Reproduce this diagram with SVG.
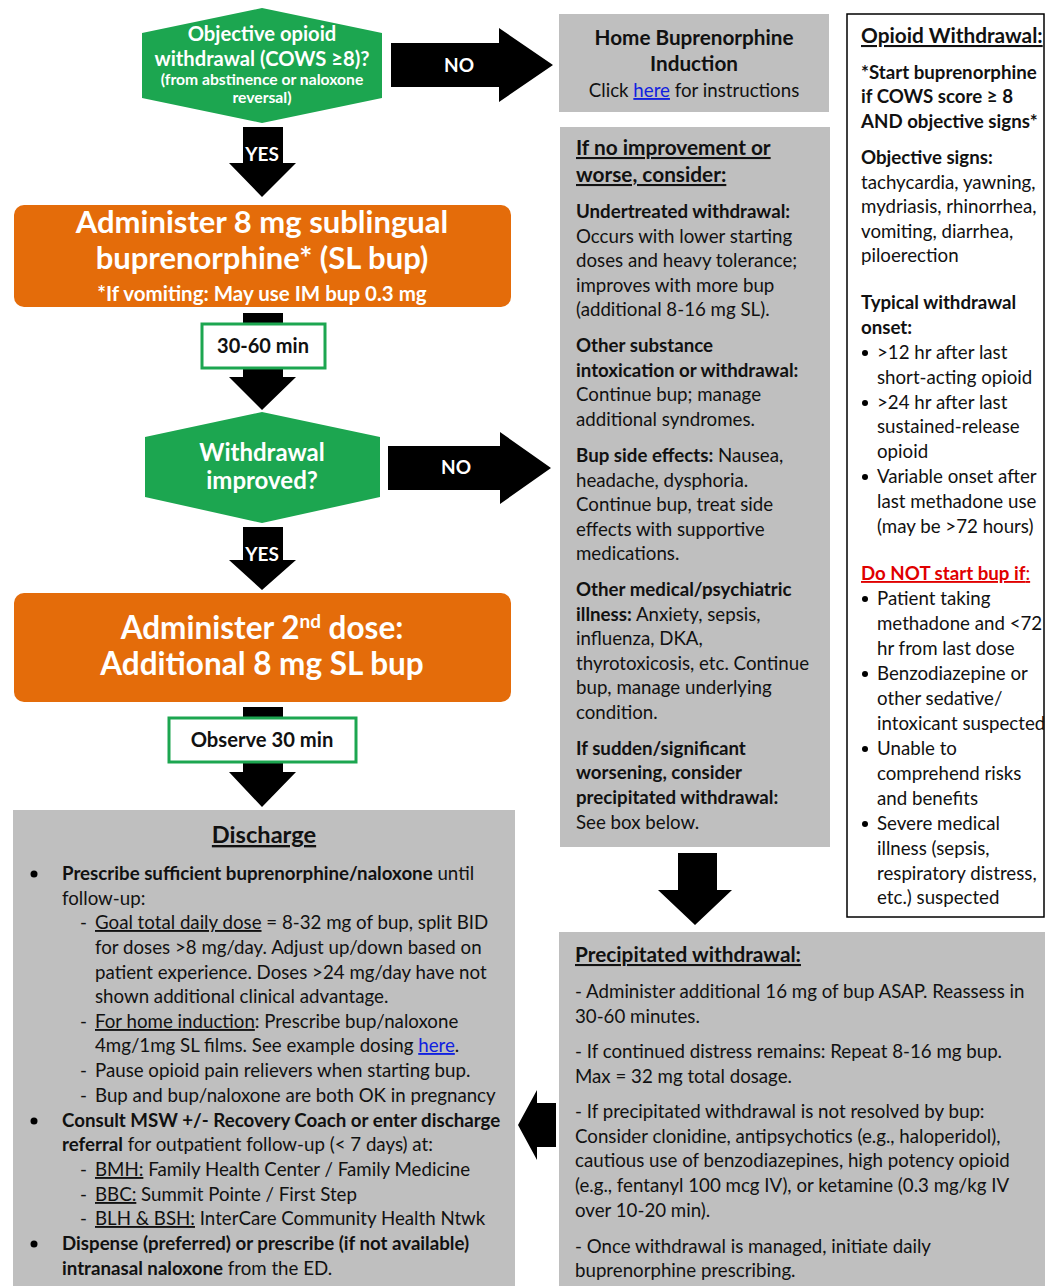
<svg xmlns="http://www.w3.org/2000/svg" width="1045" height="1286" viewBox="0 0 1045 1286">
<style>
text{font-family:Lato,"Liberation Sans",sans-serif;fill:#111;}
.b{font-weight:bold;}
.w{fill:#fff;font-weight:bold;}
.u{text-decoration:underline;}
.t{font-size:18.7px;}
.h{font-size:20.8px;}
.lnk{fill:#1020E0;text-decoration:underline;}
.gray{fill:#BFBFBF;}
.dec{fill:#1CA650;}
.org{fill:#E46C0A;}
.tbox{fill:#fff;stroke:#1CA650;stroke-width:3;}
.arr{fill:#000;}
.red{fill:#E00000;}
</style>
<rect width="1045" height="1286" fill="#fff"/>

<g id="connectors">
<polygon class="arr" points="391,43 499,43 499,28 553,65 499,102 499,87 391,87"/>
<polygon class="arr" points="243,127 283,127 283,163 296,163 262,197 229,163 243,163"/>
<polygon class="arr" points="243,313 283,313 283,377 296,377 262,410 229,377 243,377"/>
<polygon class="arr" points="388,446 500,446 500,432 551,468 500,504 500,490 388,490"/>
<polygon class="arr" points="243,527 283,527 283,560 296,560 262,590 229,560 243,560"/>
<polygon class="arr" points="243,707 283,707 283,772 296,772 262,807 229,772 243,772"/>
<polygon class="arr" points="678,853 717,853 717,890 732,890 695,925 658,890 678,890"/>
<polygon class="arr" points="556,1103 537,1103 537,1090 518,1125 537,1160 537,1147 556,1147"/>
<text class="w" x="459" y="72" font-size="19" text-anchor="middle">NO</text>
<text class="w" x="456" y="474" font-size="19" text-anchor="middle">NO</text>
<text class="w" x="262" y="161" font-size="19" text-anchor="middle">YES</text>
<text class="w" x="262" y="561" font-size="19" text-anchor="middle">YES</text>
</g>

<g id="decision1">
<polygon class="dec" points="262,8 382,33 382,98 262,123 142,98 142,33"/>
<text class="w" x="262" y="41" font-size="20.2" text-anchor="middle">Objective opioid</text>
<text class="w" x="262" y="66" font-size="20.2" text-anchor="middle">withdrawal (COWS ≥8)?</text>
<text class="w" x="262" y="85" font-size="15.7" text-anchor="middle">(from abstinence or naloxone</text>
<text class="w" x="262" y="103" font-size="15.7" text-anchor="middle">reversal)</text>
</g>

<g id="home-induction">
<rect class="gray" x="559" y="14" width="270" height="98"/>
<text class="b" x="694" y="45" font-size="20.7" text-anchor="middle">Home Buprenorphine</text>
<text class="b" x="694" y="71" font-size="20.7" text-anchor="middle">Induction</text>
<text x="694" y="97" font-size="18.7" text-anchor="middle">Click <tspan class="lnk">here</tspan> for instructions</text>
</g>

<g id="dose1">
<rect class="org" x="14" y="205" width="497" height="102" rx="10"/>
<text class="w" x="262" y="233" font-size="31" text-anchor="middle">Administer 8 mg sublingual</text>
<text class="w" x="262" y="269" font-size="31" text-anchor="middle">buprenorphine* (SL bup)</text>
<text class="w" x="262" y="301" font-size="20.5" text-anchor="middle">*If vomiting: May use IM bup 0.3 mg</text>
</g>

<g id="wait1">
<rect class="tbox" x="202" y="324" width="123" height="44"/>
<text class="b" x="263" y="353" font-size="20" text-anchor="middle">30-60 min</text>
</g>

<g id="decision2">
<polygon class="dec" points="262,412 380,437 380,497 262,523 145,497 145,437"/>
<text class="w" x="262" y="461" font-size="24" text-anchor="middle">Withdrawal</text>
<text class="w" x="262" y="489" font-size="24" text-anchor="middle">improved?</text>
</g>

<g id="dose2">
<rect class="org" x="14" y="593" width="497" height="109" rx="10"/>
<text class="w" x="262" y="639" font-size="31.5" text-anchor="middle">Administer 2<tspan font-size="19" dy="-11">nd</tspan><tspan dy="11"> dose:</tspan></text>
<text class="w" x="262" y="675" font-size="31.5" text-anchor="middle">Additional 8 mg SL bup</text>
</g>

<g id="wait2">
<rect class="tbox" x="169" y="718" width="187" height="44"/>
<text class="b" x="262" y="747" font-size="20.2" text-anchor="middle">Observe 30 min</text>
</g>

<g id="consider">
<rect class="gray" x="560" y="127" width="270" height="720"/>
<g class="t">
<text class="b u h" x="576" y="155">If no improvement or</text>
<text class="b u h" x="576" y="182">worse, consider:</text>
<text class="b" x="576" y="218">Undertreated withdrawal:</text>
<text x="576" y="243">Occurs with lower starting</text>
<text x="576" y="267">doses and heavy tolerance;</text>
<text x="576" y="292">improves with more bup</text>
<text x="576" y="316">(additional 8-16 mg SL).</text>
<text class="b" x="576" y="352">Other substance</text>
<text class="b" x="576" y="377">intoxication or withdrawal:</text>
<text x="576" y="401">Continue bup; manage</text>
<text x="576" y="426">additional syndromes.</text>
<text x="576" y="462"><tspan class="b">Bup side effects:</tspan> Nausea,</text>
<text x="576" y="487">headache, dysphoria.</text>
<text x="576" y="511">Continue bup, treat side</text>
<text x="576" y="536">effects with supportive</text>
<text x="576" y="560">medications.</text>
<text class="b" x="576" y="596">Other medical/psychiatric</text>
<text x="576" y="621"><tspan class="b">illness:</tspan> Anxiety, sepsis,</text>
<text x="576" y="645">influenza, DKA,</text>
<text x="576" y="670">thyrotoxicosis, etc. Continue</text>
<text x="576" y="694">bup, manage underlying</text>
<text x="576" y="719">condition.</text>
<text class="b" x="576" y="755">If sudden/significant</text>
<text class="b" x="576" y="779">worsening, consider</text>
<text class="b" x="576" y="804">precipitated withdrawal:</text>
<text x="576" y="829">See box below.</text>
</g>
</g>

<g id="withdrawal-info">
<rect x="847" y="14" width="197" height="903" fill="#fff" stroke="#000" stroke-width="1.5"/>
<g class="t">
<text class="b u h" x="861" y="43">Opioid Withdrawal:</text>
<text class="b" x="861" y="79">*Start buprenorphine</text>
<text class="b" x="861" y="103">if COWS score ≥ 8</text>
<text class="b" x="861" y="128">AND objective signs*</text>
<text class="b" x="861" y="164">Objective signs:</text>
<text x="861" y="189">tachycardia, yawning,</text>
<text x="861" y="213">mydriasis, rhinorrhea,</text>
<text x="861" y="238">vomiting, diarrhea,</text>
<text x="861" y="262">piloerection</text>
<text class="b" x="861" y="309">Typical withdrawal</text>
<text class="b" x="861" y="334">onset:</text>
<text x="877" y="359">&gt;12 hr after last</text>
<text x="877" y="384">short-acting opioid</text>
<text x="877" y="409">&gt;24 hr after last</text>
<text x="877" y="433">sustained-release</text>
<text x="877" y="458">opioid</text>
<text x="877" y="483">Variable onset after</text>
<text x="877" y="508">last methadone use</text>
<text x="877" y="533">(may be &gt;72 hours)</text>
<text class="u red" x="861" y="580"><tspan class="b">Do NOT start bup if</tspan>:</text>
<text x="877" y="605">Patient taking</text>
<text x="877" y="630">methadone and &lt;72</text>
<text x="877" y="655">hr from last dose</text>
<text x="877" y="680">Benzodiazepine or</text>
<text x="877" y="705">other sedative/</text>
<text x="877" y="730">intoxicant suspected</text>
<text x="877" y="755">Unable to</text>
<text x="877" y="780">comprehend risks</text>
<text x="877" y="805">and benefits</text>
<text x="877" y="830">Severe medical</text>
<text x="877" y="855">illness (sepsis,</text>
<text x="877" y="880">respiratory distress,</text>
<text x="877" y="904">etc.) suspected</text>
</g>
<g fill="#000">
<circle cx="865" cy="353" r="3"/>
<circle cx="865" cy="403" r="3"/>
<circle cx="865" cy="477" r="3"/>
<circle cx="865" cy="599" r="3"/>
<circle cx="865" cy="674" r="3"/>
<circle cx="865" cy="749" r="3"/>
<circle cx="865" cy="824" r="3"/>
</g>
</g>

<g id="discharge">
<rect class="gray" x="13" y="810" width="502" height="476"/>
<text class="b u" x="264" y="843" font-size="23.6" text-anchor="middle">Discharge</text>
<g class="t">
<text x="62" y="880"><tspan class="b">Prescribe sufficient buprenorphine/naloxone</tspan> until</text>
<text x="62" y="905">follow-up:</text>
<text x="80" y="929">-</text><text x="95" y="929"><tspan class="u">Goal total daily dose</tspan> = 8-32 mg of bup, split BID</text>
<text x="95" y="954">for doses &gt;8 mg/day. Adjust up/down based on</text>
<text x="95" y="979">patient experience. Doses &gt;24 mg/day have not</text>
<text x="95" y="1003">shown additional clinical advantage.</text>
<text x="80" y="1028">-</text><text x="95" y="1028"><tspan class="u">For home induction</tspan>: Prescribe bup/naloxone</text>
<text x="95" y="1052">4mg/1mg SL films. See example dosing <tspan class="lnk">here</tspan>.</text>
<text x="80" y="1077">-</text><text x="95" y="1077">Pause opioid pain relievers when starting bup.</text>
<text x="80" y="1102">-</text><text x="95" y="1102">Bup and bup/naloxone are both OK in pregnancy</text>
<text x="62" y="1127" class="b">Consult MSW +/- Recovery Coach or enter discharge</text>
<text x="62" y="1151"><tspan class="b">referral</tspan> for outpatient follow-up (&lt; 7 days) at:</text>
<text x="80" y="1176">-</text><text x="95" y="1176"><tspan class="u">BMH:</tspan> Family Health Center / Family Medicine</text>
<text x="80" y="1201">-</text><text x="95" y="1201"><tspan class="u">BBC:</tspan> Summit Pointe / First Step</text>
<text x="80" y="1225">-</text><text x="95" y="1225"><tspan class="u">BLH &amp; BSH:</tspan> InterCare Community Health Ntwk</text>
<text x="62" y="1250" class="b">Dispense (preferred) or prescribe (if not available)</text>
<text x="62" y="1275"><tspan class="b">intranasal naloxone</tspan> from the ED.</text>
</g>
<g fill="#000">
<circle cx="34" cy="874" r="3.5"/>
<circle cx="34" cy="1121" r="3.5"/>
<circle cx="34" cy="1244" r="3.5"/>
</g>
</g>

<g id="precipitated">
<rect class="gray" x="559" y="932" width="486" height="354"/>
<g class="t">
<text class="b u h" x="575" y="962">Precipitated withdrawal:</text>
<text x="575" y="998">- Administer additional 16 mg of bup ASAP. Reassess in</text>
<text x="575" y="1023">30-60 minutes.</text>
<text x="575" y="1058">- If continued distress remains: Repeat 8-16 mg bup.</text>
<text x="575" y="1083">Max = 32 mg total dosage.</text>
<text x="575" y="1118">- If precipitated withdrawal is not resolved by bup:</text>
<text x="575" y="1143">Consider clonidine, antipsychotics (e.g., haloperidol),</text>
<text x="575" y="1167">cautious use of benzodiazepines, high potency opioid</text>
<text x="575" y="1192">(e.g., fentanyl 100 mcg IV), or ketamine (0.3 mg/kg IV</text>
<text x="575" y="1217">over 10-20 min).</text>
<text x="575" y="1253">- Once withdrawal is managed, initiate daily</text>
<text x="575" y="1277">buprenorphine prescribing.</text>
</g>
</g>
</svg>
